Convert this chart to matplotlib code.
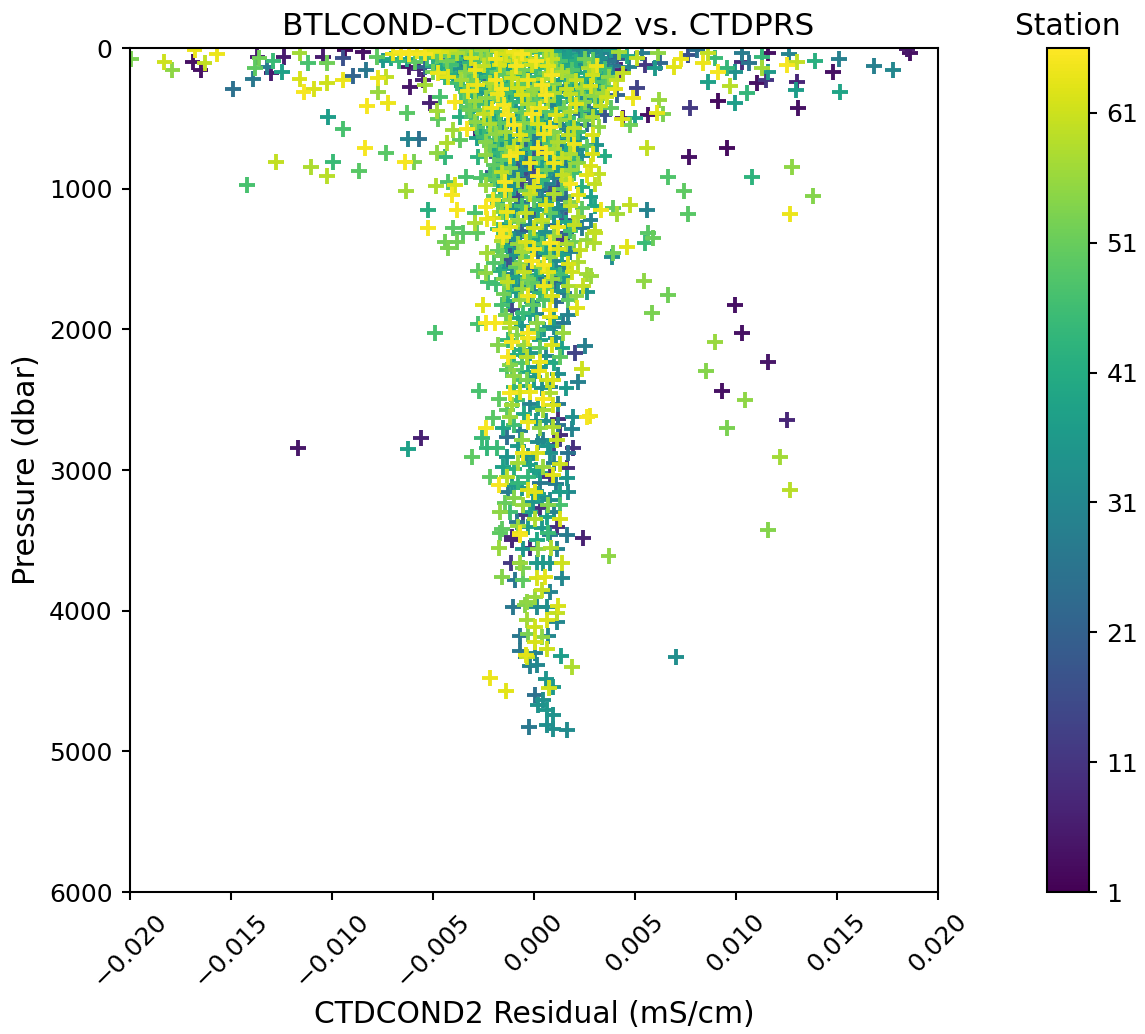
import matplotlib
matplotlib.use("Agg")
import matplotlib.pyplot as plt
import numpy as np

# residual (mS/cm), pressure (dbar), station, grouped by region
left_outliers = [
    (-0.01995,78,53),(-0.0183,100,61),(-0.0179,156,55),(-0.0168,14,64),(-0.0169,100,4),(-0.0165,156,4),
    (-0.0163,107,60),(-0.0157,43,64),(-0.0149,291,25),(-0.0139,220,27),(-0.0138,142,50),(-0.0136,71,52),
    (-0.0137,64,6),(-0.013,178,6),(-0.0132,135,28),(-0.0129,92,45),(-0.01248,170,38),(-0.0124,64,6),
    (-0.0116,220,62),(-0.0114,313,65),(-0.0109,291,62),(-0.01025,249,61),(-0.00945,228,64),(-0.0116,36,57),
    (-0.0112,107,47),(-0.01025,107,52),(-0.01045,64,6),(-0.00945,71,17),(-0.00935,14,3),(-0.00847,28,4),
    (-0.00777,64,50),(-0.00896,199,22),(-0.00832,156,27),(-0.00772,213,64),(-0.00733,206,60),(-0.00772,313,56),
    (-0.00827,412,65),(-0.00723,391,64),(-0.00629,462,49),(-0.0102,491,37),(-0.00946,576,47),(-0.00624,647,30),
    (-0.0057,647,25),(-0.00837,711,65),(-0.00733,747,49),(-0.01277,811,60),(-0.00995,811,45),(-0.01104,846,58),
    (-0.01025,910,59),(-0.00866,875,49),(-0.0142,974,47),(-0.00639,811,65),(-0.00594,811,53),(-0.00634,1017,57),
    (-0.0048,747,55),(-0.0044,775,44),(-0.00277,775,43),(-0.00525,1152,42),(-0.00525,1280,65),(-0.0038,1152,65),
    (-0.00406,1045,65),(-0.00485,981,58),(-0.00426,953,48),(-0.0039,974,62),(-0.00337,917,47),(-0.00262,924,48),
    (-0.00203,882,20),(-0.00144,953,65),(-0.00144,1010,65),(-0.00203,1081,65),(-0.00292,1173,47),(-0.00292,1244,58),
    (-0.00233,1216,64),(-0.00401,1280,49),(-0.00351,1315,49),(-0.00282,1315,50),(-0.00381,1379,52),(-0.0044,1379,52),
    (-0.00426,1422,53),(-0.00233,1458,57),(-0.00277,1586,50),(-0.00228,1664,46),(-0.00134,1166,64),(-0.00153,1344,65),
    (-0.00168,1294,65),(-0.00119,1486,19),(-0.00084,747,64),(-0.00183,775,20),(-0.00614,277,5),(-0.0055,228,7),
    (-0.0054,135,22),(-0.0054,263,57),(-0.00465,348,47),(-0.00515,391,7),(-0.0048,448,57),(-0.00475,505,50),
    (-0.0039,384,65),(-0.00475,178,64),(-0.00426,206,63),(-0.00327,306,64),(-0.00332,576,65),(-0.00292,576,5),
    (-0.00401,583,57),(-0.00431,675,58),(-0.00366,654,50),(-0.00282,640,38),(-0.00317,441,52),(-0.00366,491,42),
    (-0.0049,2027,47),(-0.01168,2844,5),(-0.00624,2851,38),(-0.0056,2773,7),(-0.00218,4479,64),(-0.00139,4572,63),
]

right_outliers = [
    (0.01861,36,4),(0.01847,7,5),(0.01683,128,29),(0.01777,156,31),(0.0151,78,29),(0.0148,171,4),(0.01515,313,39),
    (0.01391,92,42),(0.01302,100,60),(0.01252,121,65),(0.01262,43,30),(0.01302,242,8),(0.01297,298,37),(0.01307,427,4),
    (0.01158,36,4),(0.01129,64,44),(0.01129,142,57),(0.01158,171,36),(0.0103,36,28),(0.0103,100,9),(0.01064,107,26),
    (0.00995,171,34),(0.00955,142,44),(0.01104,249,4),(0.01149,228,11),(0.0097,270,59),(0.01054,320,44),(0.00911,377,3),
    (0.00995,391,37),(0.00772,427,12),(0.00861,242,38),(0.00911,171,65),(0.00896,71,45),(0.00861,36,60),(0.00837,107,64),
    (0.00728,78,64),(0.00693,135,63),(0.00762,50,17),(0.00807,14,25),(0.00624,107,23),(0.00599,142,36),(0.0055,121,12),
    (0.0051,71,60),(0.00535,36,28),(0.00614,36,55),(0.0051,284,14),(0.0049,355,64),(0.00619,370,56),(0.00609,462,63),
    (0.00639,469,53),(0.00564,476,4),(0.005,498,38),(0.00441,498,6),(0.00436,505,62),(0.00475,547,52),(0.00559,711,60),
    (0.00767,775,4),(0.00955,711,3),(0.01277,846,55),(0.01079,917,43),(0.00663,917,48),(0.00743,1017,50),(0.01381,1052,54),
    (0.01267,1180,64),(0.00762,1180,49),(0.00559,1152,30),(0.00475,1116,60),(0.00411,1180,57),(0.00332,1152,64),
    (0.00391,1138,50),(0.00564,1315,49),(0.00589,1351,51),(0.0055,1387,45),(0.0046,1415,63),(0.00391,1458,52),
    (0.00386,1486,33),(0.00302,1315,60),(0.00297,1387,58),(0.00545,1657,55),(0.00663,1756,52),(0.00282,1621,56),
    (0.00262,1735,35),(0.00243,1692,60),(0.00995,1827,4),(0.0103,2027,4),(0.01158,2233,5),(0.00931,2439,4),
    (0.01252,2645,8),(0.00896,2090,56),(0.00851,2297,54),(0.01045,2503,55),(0.00955,2702,53),(0.01218,2908,57),
    (0.01267,3143,59),(0.01158,3427,54),(0.00584,1884,53),(0.00703,4330,33),(0.0037,3612,55),(0.00243,3484,7),
]

top_band = [
    (-0.0070,40,64),(-0.0066,30,65),(-0.0062,45,65),(-0.0058,25,64),(-0.0054,40,65),(-0.0050,20,63),(-0.0046,30,62),
    (-0.0042,15,60),(-0.0038,35,58),(-0.0034,20,55),(-0.0030,40,50),(-0.0026,15,56),(-0.0022,30,48),(-0.0018,20,60),
    (-0.0014,45,62),(-0.0010,25,64),(-0.0006,40,65),(-0.0002,20,58),(0.0002,35,46),(0.0006,15,60),(0.0010,30,40),
    (0.0014,20,35),(0.0018,40,37),(0.0022,15,30),(0.0026,30,28),(0.0030,20,32),(0.0034,35,30),(0.0038,15,36),(0.0042,30,57),
    (-0.0075,90,36),(-0.0071,75,40),(-0.0067,95,45),(-0.0063,80,38),(-0.0059,100,50),(-0.0053,70,46),(-0.0047,85,24),
    (-0.0043,95,52),(-0.0039,75,44),(-0.0035,90,30),(-0.0031,70,62),(-0.0027,95,48),(-0.0023,80,56),(-0.0019,75,64),
    (-0.0015,90,60),(-0.0011,70,54),(-0.0007,85,62),(-0.0003,70,44),(0.0001,95,65),(0.0005,80,52),(0.0009,75,60),
    (0.0013,90,47),(0.0017,70,38),(0.0021,95,42),(0.0025,75,52),(0.0029,85,50),(0.0033,70,33),(0.0037,90,27),(0.0041,75,20),
    (-0.0062,135,5),(-0.0057,150,8),(-0.0050,125,42),(-0.0046,145,40),(-0.0041,120,46),(-0.0037,150,35),(-0.0033,130,22),
    (-0.0029,155,64),(-0.0025,125,60),(-0.0021,145,42),(-0.0017,120,62),(-0.0013,150,38),(-0.0009,130,65),(-0.0005,155,52),
    (-0.0001,120,61),(0.0003,145,44),(0.0007,125,63),(0.0011,150,54),(0.0015,130,40),(0.0019,155,48),(0.0023,120,34),
    (0.0027,145,58),(0.0031,125,64),(0.0035,150,46),(0.0039,130,26),(0.0043,155,8),(0.0047,135,30),
    (-0.0044,210,44),(-0.0040,195,36),(-0.0036,225,57),(-0.0031,200,50),(-0.0027,230,24),(-0.0023,205,44),(-0.0019,225,65),
    (-0.0015,190,50),(-0.0011,215,61),(-0.0007,195,42),(-0.0003,230,64),(0.0001,205,46),(0.0005,220,58),(0.0009,195,65),
    (0.0013,225,37),(0.0017,200,56),(0.0021,230,60),(0.0025,210,42),(0.0029,195,61),(0.0033,220,38),(0.0037,205,55),(0.0041,225,60),
    (-0.0036,270,38),(-0.0032,285,45),(-0.0028,265,64),(-0.0024,290,40),(-0.0020,270,55),(-0.0016,295,65),(-0.0012,265,46),
    (-0.0008,285,61),(-0.0004,270,36),(0.0000,295,56),(0.0004,265,65),(0.0008,285,44),(0.0012,270,30),(0.0016,295,60),
    (0.0020,265,38),(0.0024,285,57),(0.0028,270,62),(0.0032,290,35),(0.0036,275,50),(0.0040,295,63),
]

upper_core = [
    (-0.0030,340,42),(-0.0024,355,55),(-0.0018,330,64),(-0.0012,350,38),(-0.0006,335,62),(0.0000,355,47),(0.0006,335,65),
    (0.0012,350,40),(0.0018,330,60),(0.0024,355,32),(0.0030,340,55),(0.0036,350,61),(0.0041,335,22),
    (-0.0033,420,50),(-0.0027,400,46),(-0.0021,430,64),(-0.0015,405,65),(-0.0009,425,36),(-0.0003,400,58),(0.0003,430,64),
    (0.0009,405,30),(0.0015,425,52),(0.0021,400,63),(0.0027,430,28),(0.0033,410,60),(0.0038,425,50),
    (-0.0031,490,47),(-0.0025,470,60),(-0.0019,495,38),(-0.0013,475,65),(-0.0007,500,42),(-0.0001,470,65),(0.0005,495,33),
    (0.0011,475,62),(0.0017,500,46),(0.0023,470,26),(0.0029,490,58),(0.0035,475,18),
    (-0.0028,560,48),(-0.0022,540,58),(-0.0016,565,34),(-0.0010,545,65),(-0.0004,570,40),(0.0002,540,62),(0.0008,565,65),
    (0.0014,545,28),(0.0020,570,60),(0.0026,545,24),(0.0032,560,55),
    (-0.0025,630,45),(-0.0019,610,55),(-0.0013,635,40),(-0.0007,615,63),(-0.0001,640,30),(0.0005,610,64),(0.0011,635,38),
    (0.0017,615,60),(0.0023,640,36),(0.0029,620,62),
    (-0.0022,700,52),(-0.0016,680,36),(-0.0010,705,60),(-0.0004,685,24),(0.0002,710,65),(0.0008,680,48),(0.0014,705,30),
    (0.0020,685,64),(0.0026,700,50),(0.0031,690,35),
    (-0.0024,760,55),(-0.0018,745,44),(-0.0012,770,65),(-0.0006,750,35),(0.0000,775,18),(0.0006,745,65),(0.0012,770,42),
    (0.0018,750,58),(0.0024,770,33),(0.0029,755,62),(0.0035,770,41),
    (-0.0020,830,50),(-0.0014,815,36),(-0.0008,840,20),(-0.0002,820,64),(0.0004,845,38),(0.0010,815,64),(0.0016,840,28),
    (0.0022,820,55),(0.0028,840,62),
    (-0.0022,900,47),(-0.0016,885,60),(-0.0010,905,30),(-0.0004,890,15),(0.0002,910,65),(0.0008,885,35),(0.0014,905,60),
    (0.0020,890,46),(0.0026,905,63),(0.0032,895,60),
    (-0.0024,975,56),(-0.0018,960,40),(-0.0012,985,33),(-0.0006,965,14),(0.0000,985,62),(0.0006,965,30),(0.0012,990,18),
    (0.0018,965,65),(0.0024,985,42),(0.0030,970,60),
]

lower_core = [
    (-0.0020,1050,50),(-0.0014,1035,40),(-0.0008,1060,14),(-0.0002,1040,60),(0.0004,1065,30),(0.0010,1040,58),(0.0016,1060,24),
    (0.0022,1045,63),(0.0028,1060,38),
    (-0.0024,1130,65),(-0.0018,1115,52),(-0.0012,1140,28),(-0.0006,1120,46),(0.0000,1145,16),(0.0006,1115,62),(0.0012,1140,34),
    (0.0018,1120,60),(0.0024,1140,50),(0.0030,1125,40),
    (-0.0020,1210,62),(-0.0014,1195,44),(-0.0008,1220,56),(-0.0002,1200,27),(0.0004,1225,60),(0.0010,1195,36),(0.0016,1220,18),
    (0.0022,1200,58),(0.0028,1225,30),
    (-0.0018,1290,46),(-0.0012,1275,63),(-0.0006,1300,20),(0.0000,1280,61),(0.0006,1305,33),(0.0012,1275,64),(0.0018,1300,46),
    (0.0024,1280,28),(0.0030,1300,60),
    (-0.0016,1370,58),(-0.0010,1355,34),(-0.0004,1380,62),(0.0002,1360,40),(0.0008,1385,65),(0.0014,1355,12),(0.0020,1380,52),
    (0.0026,1365,56),
    (-0.0018,1440,50),(-0.0012,1425,20),(-0.0006,1450,57),(0.0000,1430,64),(0.0006,1455,38),(0.0012,1430,62),(0.0018,1450,30),
    (0.0023,1435,60),
    (-0.0020,1530,48),(-0.0013,1510,17),(-0.0007,1535,55),(-0.0001,1515,65),(0.0005,1540,65),(0.0011,1515,32),(0.0017,1535,62),
    (0.0022,1520,58),
    (-0.0024,1600,55),(-0.0017,1585,42),(-0.0011,1610,30),(-0.0005,1590,60),(0.0001,1615,40),(0.0007,1590,63),(0.0013,1610,46),
    (0.0019,1595,61),(0.0026,1610,57),
    (-0.0019,1680,46),(-0.0013,1665,60),(-0.0007,1690,32),(-0.0001,1670,50),(0.0005,1695,64),(0.0011,1670,24),(0.0017,1690,58),
    (-0.0015,1750,52),(-0.0009,1735,36),(-0.0003,1760,64),(0.0003,1740,44),(0.0009,1765,62),(0.0015,1745,28),(0.0021,1760,55),
]

core_fill = [
    (-0.0048,60,50),(-0.0040,55,46),(-0.0032,105,44),(-0.0024,60,52),(-0.0016,105,40),(-0.0008,55,60),(0.0000,110,48),
    (0.0008,50,55),(0.0016,105,36),(0.0024,55,34),(0.0032,105,32),(0.0040,55,24),(0.0046,60,40),(-0.0050,170,52),
    (-0.0042,175,42),(-0.0034,170,54),(-0.0026,180,38),(-0.0018,170,50),(-0.0010,180,57),(-0.0002,170,36),(0.0006,175,50),
    (0.0014,170,58),(0.0022,180,40),(0.0030,170,46),(0.0038,175,34),(0.0044,180,60),(-0.0038,250,46),(-0.0030,245,52),
    (-0.0022,250,58),(-0.0014,245,40),(-0.0006,255,50),(0.0002,245,38),(0.0010,255,54),(0.0018,245,44),(0.0026,250,36),
    (0.0034,245,48),(-0.0034,315,50),(-0.0026,320,36),(-0.0020,310,54),(-0.0014,320,46),(-0.0008,310,40),(-0.0002,320,55),
    (0.0004,310,38),(0.0010,320,58),(0.0016,310,34),(0.0022,320,50),(0.0028,310,42),(0.0034,320,57),(-0.0036,385,47),
    (-0.0029,375,56),(-0.0023,385,40),(-0.0017,375,52),(-0.0011,385,44),(-0.0005,375,38),(0.0001,385,50),(0.0007,375,57),
    (0.0013,385,36),(0.0019,375,46),(0.0025,385,54),(0.0031,375,40),(-0.0030,450,40),(-0.0024,440,52),(-0.0018,455,46),
    (-0.0012,440,56),(-0.0006,455,50),(0.0000,440,36),(0.0006,455,48),(0.0012,440,40),(0.0018,455,58),(0.0024,440,46),
    (0.0030,455,36),(-0.0029,525,55),(-0.0023,515,42),(-0.0017,530,50),(-0.0011,515,36),(-0.0005,530,54),(0.0001,515,44),
    (0.0007,530,38),(0.0013,515,56),(0.0019,530,40),(0.0025,515,52),(-0.0026,595,40),(-0.0020,585,50),(-0.0014,600,57),
    (-0.0008,585,32),(-0.0002,600,48),(0.0004,585,36),(0.0010,600,54),(0.0016,585,30),(0.0022,600,46),(-0.0024,665,54),
    (-0.0018,655,46),(-0.0012,670,36),(-0.0006,655,56),(0.0000,670,26),(0.0006,655,44),(0.0012,670,58),(0.0018,655,36),
    (-0.0020,725,40),(-0.0014,715,54),(-0.0008,730,30),(-0.0002,715,44),(0.0004,730,22),(0.0010,715,57),(0.0016,730,40),
    (0.0022,715,32),(-0.0016,795,50),(-0.0010,785,38),(-0.0004,800,26),(0.0002,785,50),(0.0008,800,34),(0.0014,785,60),
    (0.0020,800,44),(-0.0018,860,44),(-0.0012,850,54),(-0.0006,865,32),(0.0000,850,14),(0.0006,865,52),(0.0012,850,36),
    (0.0018,865,56),(-0.0020,935,50),(-0.0014,925,36),(-0.0008,940,57),(-0.0002,925,22),(0.0004,940,44),(0.0010,925,30),
    (0.0016,940,58),(-0.0016,1010,48),(-0.0010,1000,34),(-0.0004,1015,52),(0.0002,1000,28),(0.0008,1015,18),(0.0014,1000,50),
    (-0.0018,1090,40),(-0.0012,1080,56),(-0.0006,1095,26),(0.0000,1080,50),(0.0006,1095,38),(0.0012,1080,22),(0.0018,1095,54),
    (-0.0016,1165,54),(-0.0010,1155,34),(-0.0004,1170,60),(0.0002,1155,40),(0.0008,1170,50),(0.0014,1155,26),(-0.0014,1250,36),
    (-0.0008,1240,52),(-0.0002,1255,32),(0.0004,1240,56),(0.0010,1255,24),(0.0016,1240,40),(0.0020,1255,60),(-0.0014,1330,54),
    (-0.0008,1320,28),(-0.0002,1335,48),(0.0004,1320,34),(0.0010,1335,56),(0.0016,1320,22),(-0.0014,1405,40),(-0.0008,1395,56),
    (-0.0002,1410,36),(0.0004,1395,50),(0.0010,1410,30),(0.0016,1395,58),(-0.0016,1480,52),(-0.0010,1470,34),(-0.0004,1485,48),
    (0.0002,1470,26),(0.0008,1485,56),(0.0014,1470,38),(-0.0015,1570,36),(-0.0009,1560,50),(-0.0003,1575,24),(0.0003,1560,54),
    (0.0009,1575,40),(0.0015,1560,30),(-0.0015,1640,54),(-0.0009,1630,38),(-0.0003,1645,52),(0.0003,1630,28),(0.0009,1645,56),
    (0.0015,1630,36),(-0.0012,1720,44),(-0.0006,1710,56),(0.0000,1725,30),(0.0006,1710,50),(0.0012,1725,34),(-0.0013,1800,40),
    (-0.0007,1790,55),(-0.0001,1805,32),(0.0005,1790,48),(0.0011,1805,24),(0.0017,1795,50),(-0.0014,1900,52),(-0.0008,1920,40),
    (0.0001,1890,30),(0.0010,1920,36),(-0.0012,1990,56),(-0.0006,1975,36),(0.0002,2005,48),(0.0010,1985,32),(-0.0013,2075,44),
    (-0.0005,2110,56),(0.0003,2130,50),(0.0011,2060,34),(-0.0010,2180,42),(-0.0002,2170,36),(0.0006,2190,30),(0.0014,2130,38),
    (-0.0012,2250,54),(-0.0006,2240,48),(0.0002,2270,34),(0.0010,2240,40),(-0.0010,2330,55),(0.0000,2340,36),(0.0012,2320,33),
    (-0.0010,2410,44),(-0.0003,2400,38),(0.0008,2410,30),(0.0016,2420,36),(-0.0011,2535,57),(0.0002,2560,36),(0.0012,2530,28),
    (-0.0010,2680,46),(0.0006,2650,34),(0.0012,2680,26),(-0.0008,2830,36),(0.0002,2800,32),(0.0010,2820,14),(-0.0010,2990,42),
    (-0.0003,2900,34),(0.0010,2950,30),(-0.0008,3090,44),(0.0003,3020,36),(0.0011,3100,28),(-0.0010,3200,54),(0.0002,3170,38),
    (0.0008,3210,32),(-0.0012,3300,46),(-0.0002,3300,38),(0.0010,3300,30),(-0.0008,3400,56),(0.0004,3410,36),(0.0008,3460,28),
]

mid_column = [
    (-0.00252,1827,63),(-0.00158,1827,47),(-0.00277,1962,47),(-0.00238,1955,65),(-0.00193,1955,65),(-0.00119,1955,60),
    (-0.00109,1863,15),(-0.00054,1884,45),(-0.00005,1827,50),(0.00079,1863,65),(0.00079,1913,63),(0.00213,1849,63),
    (0.00168,1898,30),(0.00144,1955,27),(0.00015,1955,55),(0.00144,2027,56),(-0.00084,2041,54),(-0.0003,2027,65),
    (-0.0003,2062,64),(-0.00109,2090,65),(-0.00178,2112,54),(0.0003,2076,38),(0.00089,2112,62),(0.00252,2119,29),
    (0.00203,2169,14),(0.00129,2197,50),(-0.00035,2197,59),(-0.00129,2197,65),(0.0003,2233,64),(0.00025,2297,64),
    (0.00238,2282,61),(0.00218,2375,29),(-0.00109,2290,51),(-0.00134,2290,48),(-0.00069,2361,47),(-0.00035,2361,53),
    (0.00064,2361,60),(0.00094,2361,62),(0.00079,2453,58),(-0.0002,2446,64),(-0.00119,2453,65),(-0.00069,2446,62),
    (-0.00173,2496,50),(-0.00084,2503,46),(0.00045,2496,65),(0.00094,2538,62),(-0.00134,2574,50),(-0.0002,2531,30),
    (-0.00119,2624,56),(0.00045,2574,57),(0.00119,2638,9),(0.00193,2624,33),(0.00262,2624,65),(0.00277,2617,64),
    (-0.00203,2631,49),(-0.0003,2659,64),(0.00188,2709,30),(-0.00238,2702,65),(-0.00153,2702,39),(0.0003,2702,55),
    (0.00094,2695,58),(0.00129,2752,9),(-0.00134,2766,25),(-0.00257,2773,45),(-0.00059,2787,55),(0.00114,2787,60),
    (0.00045,2787,28),(-0.00233,2844,44),(-0.00183,2844,45),(-0.00054,2880,64),(0.00015,2880,62),(0.00193,2844,10),
    (0.00168,2880,26),(0.00079,2880,34),(-0.00134,2908,35),(-0.00307,2908,50),(-0.00272,2439,47),(-0.00079,2951,57),
    (0.00129,2958,61),(0.00045,2979,56),(-0.0002,2965,38),(0.00163,2986,9),(-0.00153,2979,38),(-0.00218,3050,50),
    (-0.00134,3050,59),(0.00094,3036,63),(0.00079,3050,10),(-0.0003,3050,44),(0.00163,3058,35),(-0.00173,3107,65),
    (-0.00109,3107,36),(0.0003,3093,27),(0.00005,3157,63),(-0.0003,3143,62),(-0.00129,3157,28),(0.00129,3157,37),
    (0.00168,3157,32),(-0.00054,3249,56),(0.00069,3249,54),(0.00129,3249,47),(-0.00144,3235,51),(-0.00168,3299,55),
    (0.0003,3270,10),(-0.00005,3228,35),(0.00129,3349,62),(0.00005,3349,58),(-0.00084,3370,27),(0.00064,3334,38),
    (-0.00054,3320,12),(-0.00158,3420,50),(-0.00069,3448,64),(-0.00109,3477,8),(-0.0003,3406,37),(0.00114,3406,10),
    (-0.0002,1900,38),(0.0005,2000,35),(-0.0007,2150,42),(0.0006,2230,36),(-0.0003,2300,40),(0.0004,2420,34),(-0.0005,2600,40),
    (0.0001,2650,36),(-0.0007,2720,30),(0.0007,2830,35),(-0.0002,2920,33),(0.0001,3000,38),(-0.0006,3130,36),(0.0004,3190,34),
]

deep_column = [
    (0.00163,3462,28),(0.00069,3448,45),(0.00015,3498,40),(-0.00069,3462,65),(-0.00168,3448,50),(-0.00109,3498,8),
    (-0.00173,3555,56),(-0.00054,3562,35),(0.0002,3562,55),(0.00084,3555,58),(0.00114,3562,30),(-0.0002,3555,9),
    (0.00139,3662,61),(-0.00114,3662,12),(-0.00069,3662,56),(-0.00054,3697,53),(0.00015,3662,36),(0.00045,3662,36),
    (0.00079,3662,35),(0.00139,3768,31),(-0.00094,3783,27),(-0.00158,3761,54),(-0.00054,3783,50),(0.00015,3768,62),
    (0.00054,3761,63),(0.0004,3854,60),(0.00079,3868,30),(0.00005,3904,56),(-0.00035,3939,55),(-0.00104,3975,27),
    (0.00015,3975,32),(0.00064,3975,33),(-0.00045,3960,54),(0.00119,3968,62),(0.00114,4018,60),(0.00114,4081,31),
    (-0.00035,4067,57),(0.00064,4067,62),(0.00005,4117,61),(-0.00069,4181,27),(-0.0003,4167,53),(0.00069,4181,31),
    (0.0004,4188,55),(0.00005,4224,62),(0.00064,4274,61),(0.00005,4302,30),(-0.00069,4288,27),(-0.0004,4316,63),
    (-0.00035,4330,60),(0.00134,4323,37),(0.00188,4401,58),(-0.0002,4394,29),(0.00015,4387,31),(0.00059,4486,35),
    (0.00094,4543,36),(0.00074,4551,61),(0.00005,4600,25),(0.00045,4636,33),(0.0002,4671,34),(0.00064,4707,35),
    (0.00094,4743,34),(0.00064,4814,33),(-0.00025,4828,27),(0.00094,4842,33),(0.00163,4849,32),
]

xticks = [-0.020, -0.015, -0.010, -0.005, 0.000, 0.005, 0.010, 0.015, 0.020]
yticks = [0, 1000, 2000, 3000, 4000, 5000, 6000]
cbar_ticks = [1, 11, 21, 31, 41, 51, 61]

points = np.array(left_outliers + right_outliers + top_band + upper_core + lower_core + core_fill + mid_column + deep_column)
order = np.argsort(points[:, 2], kind="stable")
points = points[order]

W, H = 1145, 1034
DPI = 186
fig = plt.figure(figsize=(W / DPI, H / DPI), dpi=DPI)
ax = fig.add_axes([130 / W, 1 - 892 / H, 808 / W, 844 / H])
sc = ax.scatter(points[:, 0], points[:, 1], c=points[:, 2], marker="+", cmap="viridis", vmin=1, vmax=66)
ax.set_xlim(-0.02, 0.02)
ax.set_ylim(6000, 0)
ax.set_xticks(xticks)
ax.set_yticks(yticks)
ax.set_xticklabels([f"{t:.3f}".replace("-", "\u2212") for t in xticks], rotation=45)
ax.tick_params(labelsize=9.7, length=3.2)
ax.set_title("BTLCOND-CTDCOND2 vs. CTDPRS", fontsize=12.1, x=0.517, pad=5)
ax.set_xlabel("CTDCOND2 Residual (mS/cm)", fontsize=11.5, labelpad=3)
ax.set_ylabel("Pressure (dbar)", fontsize=11.6, labelpad=3)

cax = fig.add_axes([1047 / W, 1 - 892 / H, 42 / W, 844 / H])
cbar = fig.colorbar(sc, cax=cax)
cbar.set_ticks(cbar_ticks)
cbar.ax.tick_params(labelsize=9.7, length=3.2)
cbar.ax.set_title("Station", fontsize=11.5, pad=5)

fig.savefig("out.png")
